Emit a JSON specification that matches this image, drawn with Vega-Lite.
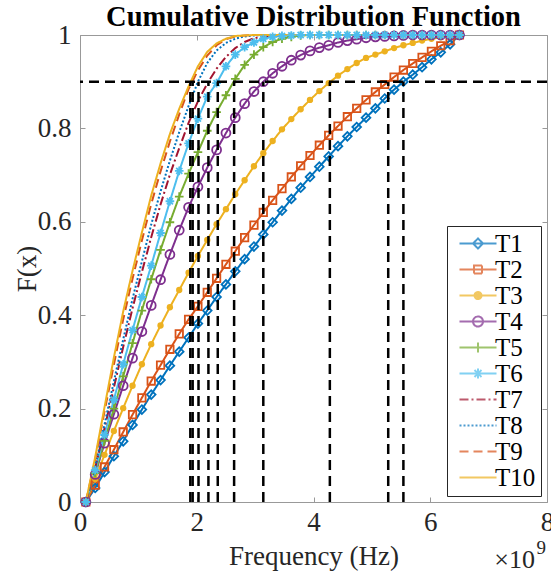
{
  "$schema": "https://vega.github.io/schema/vega-lite/v6.json",
  "width": 467,
  "height": 467,
  "autosize": "none",
  "padding": {"left": 80, "top": 35, "right": 4, "bottom": 73},
  "background": "white",
  "title": {"text": "Cumulative Distribution Function", "fontSize": 28.5, "font": "Liberation Serif", "fontWeight": "bold", "anchor": "middle", "offset": 3, "dy": 13, "color": "black"},
  "datasets": {
    "cdf": [
      {"x": 0.1, "T1": 0, "T2": 0, "T3": 0, "T4": 0, "T5": 0, "T6": 0, "T7": 0, "T8": 0, "T9": 0, "T10": 0},
      {"x": 0.26, "T1": 0.030, "T2": 0.036, "T3": 0.049, "T4": 0.059, "T5": 0.062, "T6": 0.068, "T7": 0.073, "T8": 0.077, "T9": 0.091, "T10": 0.096},
      {"x": 0.42, "T1": 0.064, "T2": 0.075, "T3": 0.101, "T4": 0.126, "T5": 0.131, "T6": 0.144, "T7": 0.158, "T8": 0.166, "T9": 0.194, "T10": 0.203},
      {"x": 0.58, "T1": 0.098, "T2": 0.112, "T3": 0.152, "T4": 0.188, "T5": 0.200, "T6": 0.219, "T7": 0.245, "T8": 0.258, "T9": 0.294, "T10": 0.309},
      {"x": 0.74, "T1": 0.130, "T2": 0.150, "T3": 0.201, "T4": 0.249, "T5": 0.269, "T6": 0.295, "T7": 0.332, "T8": 0.348, "T9": 0.391, "T10": 0.408},
      {"x": 0.9, "T1": 0.165, "T2": 0.187, "T3": 0.249, "T4": 0.308, "T5": 0.340, "T6": 0.368, "T7": 0.415, "T8": 0.435, "T9": 0.478, "T10": 0.495},
      {"x": 1.06, "T1": 0.198, "T2": 0.223, "T3": 0.295, "T4": 0.365, "T5": 0.410, "T6": 0.439, "T7": 0.492, "T8": 0.515, "T9": 0.560, "T10": 0.577},
      {"x": 1.22, "T1": 0.230, "T2": 0.259, "T3": 0.338, "T4": 0.421, "T5": 0.477, "T6": 0.506, "T7": 0.567, "T8": 0.594, "T9": 0.638, "T10": 0.656},
      {"x": 1.38, "T1": 0.261, "T2": 0.293, "T3": 0.378, "T4": 0.476, "T5": 0.540, "T6": 0.576, "T7": 0.637, "T8": 0.665, "T9": 0.708, "T10": 0.725},
      {"x": 1.54, "T1": 0.292, "T2": 0.327, "T3": 0.417, "T4": 0.530, "T5": 0.599, "T6": 0.644, "T7": 0.701, "T8": 0.731, "T9": 0.772, "T10": 0.788},
      {"x": 1.7, "T1": 0.322, "T2": 0.360, "T3": 0.454, "T4": 0.582, "T5": 0.654, "T6": 0.709, "T7": 0.758, "T8": 0.792, "T9": 0.830, "T10": 0.842},
      {"x": 1.86, "T1": 0.352, "T2": 0.391, "T3": 0.491, "T4": 0.631, "T5": 0.703, "T6": 0.768, "T7": 0.812, "T8": 0.848, "T9": 0.884, "T10": 0.890},
      {"x": 2.02, "T1": 0.382, "T2": 0.419, "T3": 0.527, "T4": 0.675, "T5": 0.749, "T6": 0.821, "T7": 0.858, "T8": 0.900, "T9": 0.924, "T10": 0.933},
      {"x": 2.18, "T1": 0.410, "T2": 0.449, "T3": 0.561, "T4": 0.716, "T5": 0.795, "T6": 0.868, "T7": 0.896, "T8": 0.940, "T9": 0.956, "T10": 0.964},
      {"x": 2.34, "T1": 0.439, "T2": 0.479, "T3": 0.595, "T4": 0.754, "T5": 0.835, "T6": 0.897, "T7": 0.928, "T8": 0.967, "T9": 0.978, "T10": 0.982},
      {"x": 2.5, "T1": 0.466, "T2": 0.509, "T3": 0.627, "T4": 0.790, "T5": 0.871, "T6": 0.933, "T7": 0.953, "T8": 0.983, "T9": 0.991, "T10": 0.992},
      {"x": 2.66, "T1": 0.494, "T2": 0.537, "T3": 0.659, "T4": 0.823, "T5": 0.906, "T6": 0.958, "T7": 0.972, "T8": 0.992, "T9": 0.997, "T10": 0.998},
      {"x": 2.82, "T1": 0.520, "T2": 0.566, "T3": 0.689, "T4": 0.853, "T5": 0.936, "T6": 0.974, "T7": 0.985, "T8": 0.997, "T9": 0.999, "T10": 0.999},
      {"x": 2.98, "T1": 0.547, "T2": 0.593, "T3": 0.719, "T4": 0.879, "T5": 0.958, "T6": 0.984, "T7": 0.993, "T8": 0.999, "T9": 1, "T10": 1},
      {"x": 3.14, "T1": 0.573, "T2": 0.620, "T3": 0.747, "T4": 0.900, "T5": 0.974, "T6": 0.992, "T7": 0.997, "T8": 1, "T9": 1, "T10": 1},
      {"x": 3.3, "T1": 0.599, "T2": 0.646, "T3": 0.773, "T4": 0.918, "T5": 0.985, "T6": 0.996, "T7": 0.999, "T8": 1, "T9": 1, "T10": 1},
      {"x": 3.46, "T1": 0.624, "T2": 0.671, "T3": 0.798, "T4": 0.933, "T5": 0.992, "T6": 0.998, "T7": 1, "T8": 1, "T9": 1, "T10": 1},
      {"x": 3.62, "T1": 0.649, "T2": 0.696, "T3": 0.820, "T4": 0.946, "T5": 0.996, "T6": 0.999, "T7": 1, "T8": 1, "T9": 1, "T10": 1},
      {"x": 3.78, "T1": 0.673, "T2": 0.720, "T3": 0.841, "T4": 0.957, "T5": 0.999, "T6": 1, "T7": 1, "T8": 1, "T9": 1, "T10": 1},
      {"x": 3.94, "T1": 0.696, "T2": 0.742, "T3": 0.861, "T4": 0.966, "T5": 1, "T6": 1, "T7": 1, "T8": 1, "T9": 1, "T10": 1},
      {"x": 4.1, "T1": 0.718, "T2": 0.764, "T3": 0.880, "T4": 0.973, "T5": 1, "T6": 1, "T7": 1, "T8": 1, "T9": 1, "T10": 1},
      {"x": 4.26, "T1": 0.740, "T2": 0.785, "T3": 0.897, "T4": 0.978, "T5": 1, "T6": 1, "T7": 1, "T8": 1, "T9": 1, "T10": 1},
      {"x": 4.42, "T1": 0.762, "T2": 0.805, "T3": 0.913, "T4": 0.984, "T5": 1, "T6": 1, "T7": 1, "T8": 1, "T9": 1, "T10": 1},
      {"x": 4.58, "T1": 0.783, "T2": 0.825, "T3": 0.927, "T4": 0.988, "T5": 1, "T6": 1, "T7": 1, "T8": 1, "T9": 1, "T10": 1},
      {"x": 4.74, "T1": 0.803, "T2": 0.843, "T3": 0.940, "T4": 0.991, "T5": 1, "T6": 1, "T7": 1, "T8": 1, "T9": 1, "T10": 1},
      {"x": 4.9, "T1": 0.823, "T2": 0.861, "T3": 0.951, "T4": 0.994, "T5": 1, "T6": 1, "T7": 1, "T8": 1, "T9": 1, "T10": 1},
      {"x": 5.06, "T1": 0.843, "T2": 0.878, "T3": 0.958, "T4": 0.996, "T5": 1, "T6": 1, "T7": 1, "T8": 1, "T9": 1, "T10": 1},
      {"x": 5.22, "T1": 0.864, "T2": 0.894, "T3": 0.965, "T4": 0.997, "T5": 1, "T6": 1, "T7": 1, "T8": 1, "T9": 1, "T10": 1},
      {"x": 5.38, "T1": 0.883, "T2": 0.910, "T3": 0.972, "T4": 0.998, "T5": 1, "T6": 1, "T7": 1, "T8": 1, "T9": 1, "T10": 1},
      {"x": 5.54, "T1": 0.900, "T2": 0.925, "T3": 0.978, "T4": 0.999, "T5": 1, "T6": 1, "T7": 1, "T8": 1, "T9": 1, "T10": 1},
      {"x": 5.7, "T1": 0.915, "T2": 0.939, "T3": 0.983, "T4": 1, "T5": 1, "T6": 1, "T7": 1, "T8": 1, "T9": 1, "T10": 1},
      {"x": 5.86, "T1": 0.931, "T2": 0.952, "T3": 0.988, "T4": 1, "T5": 1, "T6": 1, "T7": 1, "T8": 1, "T9": 1, "T10": 1},
      {"x": 6.02, "T1": 0.948, "T2": 0.965, "T3": 0.992, "T4": 1, "T5": 1, "T6": 1, "T7": 1, "T8": 1, "T9": 1, "T10": 1},
      {"x": 6.18, "T1": 0.963, "T2": 0.977, "T3": 0.995, "T4": 1, "T5": 1, "T6": 1, "T7": 1, "T8": 1, "T9": 1, "T10": 1},
      {"x": 6.34, "T1": 0.980, "T2": 0.988, "T3": 0.998, "T4": 1, "T5": 1, "T6": 1, "T7": 1, "T8": 1, "T9": 1, "T10": 1},
      {"x": 6.5, "T1": 1, "T2": 1, "T3": 1, "T4": 1, "T5": 1, "T6": 1, "T7": 1, "T8": 1, "T9": 1, "T10": 1}
    ],
    "cross": [
      {"series": "T10", "xc": 1.89}, {"series": "T9", "xc": 1.93}, {"series": "T8", "xc": 2.03},
      {"series": "T7", "xc": 2.2}, {"series": "T6", "xc": 2.36}, {"series": "T5", "xc": 2.64},
      {"series": "T4", "xc": 3.14}, {"series": "T3", "xc": 4.28}, {"series": "T2", "xc": 5.28},
      {"series": "T1", "xc": 5.54}
    ]
  },
  "layer": [
    {
      "data": {"name": "cdf"},
      "transform": [{"fold": ["T1", "T2", "T3", "T4", "T5", "T6", "T7", "T8", "T9", "T10"], "as": ["series", "F"]}],
      "mark": {"type": "line", "strokeWidth": 2},
      "encoding": {
        "x": {"field": "x", "type": "quantitative", "scale": {"domain": [0, 8], "nice": false},
          "axis": {"orient": "bottom", "values": [0, 2, 4, 6, 8], "title": "Frequency (Hz)", "tickSize": -5, "labelPadding": 12, "titlePadding": 8, "labelFlush": false, "labelOverlap": false}},
        "y": {"field": "F", "type": "quantitative", "scale": {"domain": [0, 1], "nice": false},
          "axis": {"orient": "left", "values": [0, 0.2, 0.4, 0.6, 0.8, 1], "format": ".1~f", "title": "F(x)", "tickSize": -5, "labelPadding": 14, "titlePadding": -4, "labelFlush": false, "labelOverlap": false}},
        "color": {"field": "series", "type": "nominal",
          "scale": {"domain": ["T1", "T2", "T3", "T4", "T5", "T6", "T7", "T8", "T9", "T10"],
            "range": ["#0072BD", "#D95319", "#EDB120", "#7E2F8E", "#77AC30", "#4DBEEE", "#A2142F", "#0072BD", "#D95319", "#EDB120"]}},
        "strokeDash": {"field": "series", "type": "nominal",
          "scale": {"domain": ["T1", "T2", "T3", "T4", "T5", "T6", "T7", "T8", "T9", "T10"],
            "range": [[1, 0], [1, 0], [1, 0], [1, 0], [1, 0], [1, 0], [9, 3, 2, 3], [2, 2], [9, 5], [1, 0]]}}
      }
    },
    {
      "data": {"name": "cdf"},
      "transform": [{"fold": ["T1"], "as": ["series", "F"]}],
      "mark": {"type": "point", "shape": "diamond", "size": 75, "filled": false, "strokeWidth": 1.8, "color": "#0072BD", "opacity": 1},
      "encoding": {"x": {"field": "x", "type": "quantitative", "axis": null}, "y": {"field": "F", "type": "quantitative", "axis": null}}
    },
    {
      "data": {"name": "cdf"},
      "transform": [{"fold": ["T2"], "as": ["series", "F"]}],
      "mark": {"type": "point", "shape": "square", "size": 55, "filled": false, "strokeWidth": 1.8, "color": "#D95319", "opacity": 1},
      "encoding": {"x": {"field": "x", "type": "quantitative", "axis": null}, "y": {"field": "F", "type": "quantitative", "axis": null}}
    },
    {
      "data": {"name": "cdf"},
      "transform": [{"fold": ["T3"], "as": ["series", "F"]}],
      "mark": {"type": "point", "shape": "circle", "size": 40, "filled": true, "color": "#EDB120", "opacity": 1},
      "encoding": {"x": {"field": "x", "type": "quantitative", "axis": null}, "y": {"field": "F", "type": "quantitative", "axis": null}}
    },
    {
      "data": {"name": "cdf"},
      "transform": [{"fold": ["T4"], "as": ["series", "F"]}],
      "mark": {"type": "point", "shape": "circle", "size": 80, "filled": false, "strokeWidth": 1.8, "color": "#7E2F8E", "opacity": 1},
      "encoding": {"x": {"field": "x", "type": "quantitative", "axis": null}, "y": {"field": "F", "type": "quantitative", "axis": null}}
    },
    {
      "data": {"name": "cdf"},
      "transform": [{"fold": ["T5"], "as": ["series", "F"]}],
      "mark": {"type": "point", "shape": "M0,-1L0,1M-1,0L1,0", "size": 75, "filled": false, "strokeWidth": 1.8, "color": "#77AC30", "opacity": 1},
      "encoding": {"x": {"field": "x", "type": "quantitative", "axis": null}, "y": {"field": "F", "type": "quantitative", "axis": null}}
    },
    {
      "data": {"name": "cdf"},
      "transform": [{"fold": ["T6"], "as": ["series", "F"]}],
      "mark": {"type": "point", "shape": "M0,-1L0,1M-1,0L1,0M-0.7,-0.7L0.7,0.7M-0.7,0.7L0.7,-0.7", "size": 75, "filled": false, "strokeWidth": 1.8, "color": "#4DBEEE", "opacity": 1},
      "encoding": {"x": {"field": "x", "type": "quantitative", "axis": null}, "y": {"field": "F", "type": "quantitative", "axis": null}}
    },
    {
      "data": {"values": [{"yh": 0.9}]},
      "mark": {"type": "rule", "color": "black", "strokeWidth": 2.5, "strokeDash": [10, 6]},
      "encoding": {
        "y": {"field": "yh", "type": "quantitative",
          "axis": {"orient": "right", "values": [0, 0.2, 0.4, 0.6, 0.8, 1], "labels": false, "title": null, "tickSize": -5}}
      }
    },
    {
      "data": {"name": "cross"},
      "mark": {"type": "rule", "color": "black", "strokeWidth": 2.5, "strokeDash": [10, 6]},
      "encoding": {
        "x": {"field": "xc", "type": "quantitative",
          "axis": {"orient": "top", "values": [0, 2, 4, 6, 8], "labels": false, "title": null, "tickSize": -5}},
        "y": {"datum": 0, "type": "quantitative", "axis": null},
        "y2": {"datum": 0.9}
      }
    },
    {
      "data": {"name": "cdf"},
      "transform": [
        {"fold": ["T1", "T2", "T3", "T4", "T5", "T6", "T7", "T8", "T9", "T10"], "as": ["series", "F"]},
        {"filter": "datum.F > 5"}
      ],
      "mark": {"type": "point", "filled": false, "strokeWidth": 2, "size": 100},
      "encoding": {
        "x": {"field": "x", "type": "quantitative", "axis": null},
        "y": {"field": "F", "type": "quantitative", "axis": null},
        "color": {"field": "series", "type": "nominal", "legend": {"title": null}},
        "strokeDash": {"field": "series", "type": "nominal", "legend": {"title": null}},
        "shape": {"field": "series", "type": "nominal", "legend": {"title": null},
          "scale": {"domain": ["T1", "T2", "T3", "T4", "T5", "T6", "T7", "T8", "T9", "T10"],
            "range": [
              "M-1,0L6.4,0M2.7,-1L3.7,0L2.7,1L1.7,0Z",
              "M-1,0L6.4,0M1.9,-0.8L3.5,-0.8L3.5,0.8L1.9,0.8Z",
              "M-1,0L6.4,0M2,0A0.7,0.7,0,1,0,3.4,0A0.7,0.7,0,1,0,2,0ZM2.4,0A0.3,0.3,0,1,0,3,0A0.3,0.3,0,1,0,2.4,0Z",
              "M-1,0L6.4,0M1.7,0A1,1,0,1,0,3.7,0A1,1,0,1,0,1.7,0Z",
              "M-1,0L6.4,0M2.7,-1L2.7,1",
              "M-1,0L6.4,0M2.7,-1L2.7,1M2,-0.7L3.4,0.7M2,0.7L3.4,-0.7",
              "M-1,0L6.4,0",
              "M-1,0L6.4,0",
              "M-1,0L6.4,0",
              "M-1,0L6.4,0"
            ]}}
      }
    },
    {
      "data": {"values": [{"t": "×10"}]},
      "mark": {"type": "text", "align": "right", "baseline": "alphabetic", "fontSize": 26, "dx": -12, "dy": 66, "color": "#262626"},
      "encoding": {
        "x": {"datum": 8, "type": "quantitative", "axis": null},
        "y": {"datum": 0, "type": "quantitative", "axis": null},
        "text": {"field": "t"}
      }
    },
    {
      "data": {"values": [{"t": "9"}]},
      "mark": {"type": "text", "align": "right", "baseline": "alphabetic", "fontSize": 19, "dx": -1, "dy": 52, "color": "#262626"},
      "encoding": {
        "x": {"datum": 8, "type": "quantitative", "axis": null},
        "y": {"datum": 0, "type": "quantitative", "axis": null},
        "text": {"field": "t"}
      }
    }
  ],
  "resolve": {"axis": {"x": "independent", "y": "independent"}},
  "config": {
    "font": "Liberation Serif",
    "view": {"stroke": null},
    "axis": {"grid": false, "domainColor": "#999999", "tickColor": "#999999", "domainWidth": 1, "tickWidth": 1,
      "labelFont": "Liberation Serif", "labelFontSize": 27, "labelColor": "#262626",
      "titleFont": "Liberation Serif", "titleFontSize": 27, "titleFontWeight": "normal", "titleColor": "#262626"},
    "legend": {"orient": "bottom-right", "offset": 6, "labelFont": "Liberation Serif", "labelFontSize": 25, "labelColor": "#000000",
      "strokeColor": "#262626", "fillColor": "white", "padding": 5, "rowPadding": 0, "symbolSize": 100, "symbolStrokeWidth": 2,
      "labelOffset": 18, "symbolFillColor": "transparent"}
  }
}
